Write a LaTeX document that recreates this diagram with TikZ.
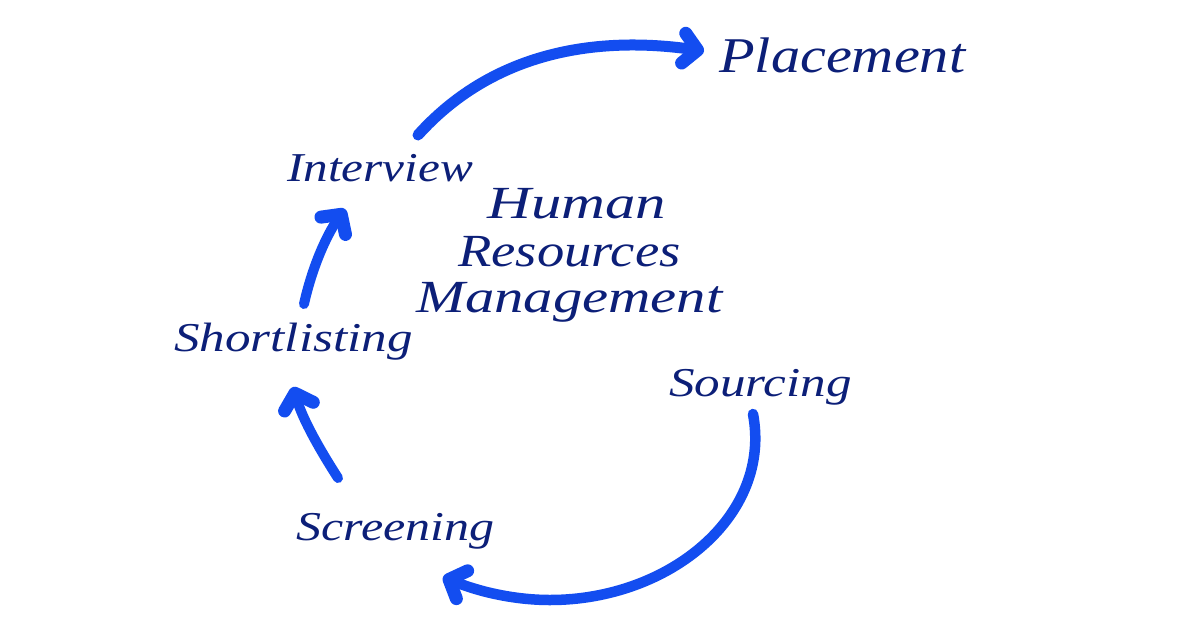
\documentclass[tikz,border=0pt]{standalone}
\usepackage{fontspec}
\setmainfont{Liberation Serif}
\usetikzlibrary{arrows.meta}
\definecolor{inkblue}{HTML}{0C1F78}
\definecolor{arrowblue}{HTML}{134DF0}
\newcommand{\wtxt}[2]{\scalebox{#1}[1]{#2}}
\tikzset{
  x=1pt,y=-1pt,
  flow/.style={draw=arrowblue,line width=#1,line cap=round,line join=round,
    -{Straight Barb[length=14pt,width=30pt,line width=13pt,round]}},
  flow/.default=11pt,
  lab/.style={text=inkblue,inner sep=0pt,anchor=base west,font=\itshape\fontsize{#1}{#1}\selectfont},
}
\begin{document}
\begin{tikzpicture}
\useasboundingbox (0,0) rectangle (1200,630);
\fill[white] (0,0) rectangle (1200,630);
\node[lab=50] (placement) at (719,72) {\wtxt{1.166}{Placement}};
\node[lab=41] (interview) at (287,181) {\wtxt{1.2}{Interview}};
\node[lab=46] (human) at (487,218) {\wtxt{1.32}{Human}};
\node[lab=46] (resources) at (458,266) {\wtxt{1.187}{Resources}};
\node[lab=46] (management) at (416,312) {\wtxt{1.275}{Management}};
\node[lab=41] (shortlisting) at (174,351) {\wtxt{1.246}{Shortlisting}};
\node[lab=41] (sourcing) at (669,396) {\wtxt{1.247}{Sourcing}};
\node[lab=41] (screening) at (296,540) {\wtxt{1.22}{Screening}};
\coordinate (a1) at (418,135);
\coordinate (a2) at (704,51);
\coordinate (b1) at (304,304);
\coordinate (b2) at (345,209);
\coordinate (c1) at (338,478);
\coordinate (c2) at (293,387);
\coordinate (d1) at (753,414);
\coordinate (d2) at (443,577);
\draw[flow=11pt] (a1) .. controls (490,55) and (590,35) .. (a2);
\draw[flow=10pt] (b1) .. controls (312,268) and (326,236) .. (b2);
\draw[flow=10pt] (c1) .. controls (320,450) and (303,420) .. (c2);
\draw[flow=10.5pt] (d1) .. controls (772,515) and (670,600) .. (550,600) .. controls (515,600) and (480,592) .. (d2);
\end{tikzpicture}
\end{document}
